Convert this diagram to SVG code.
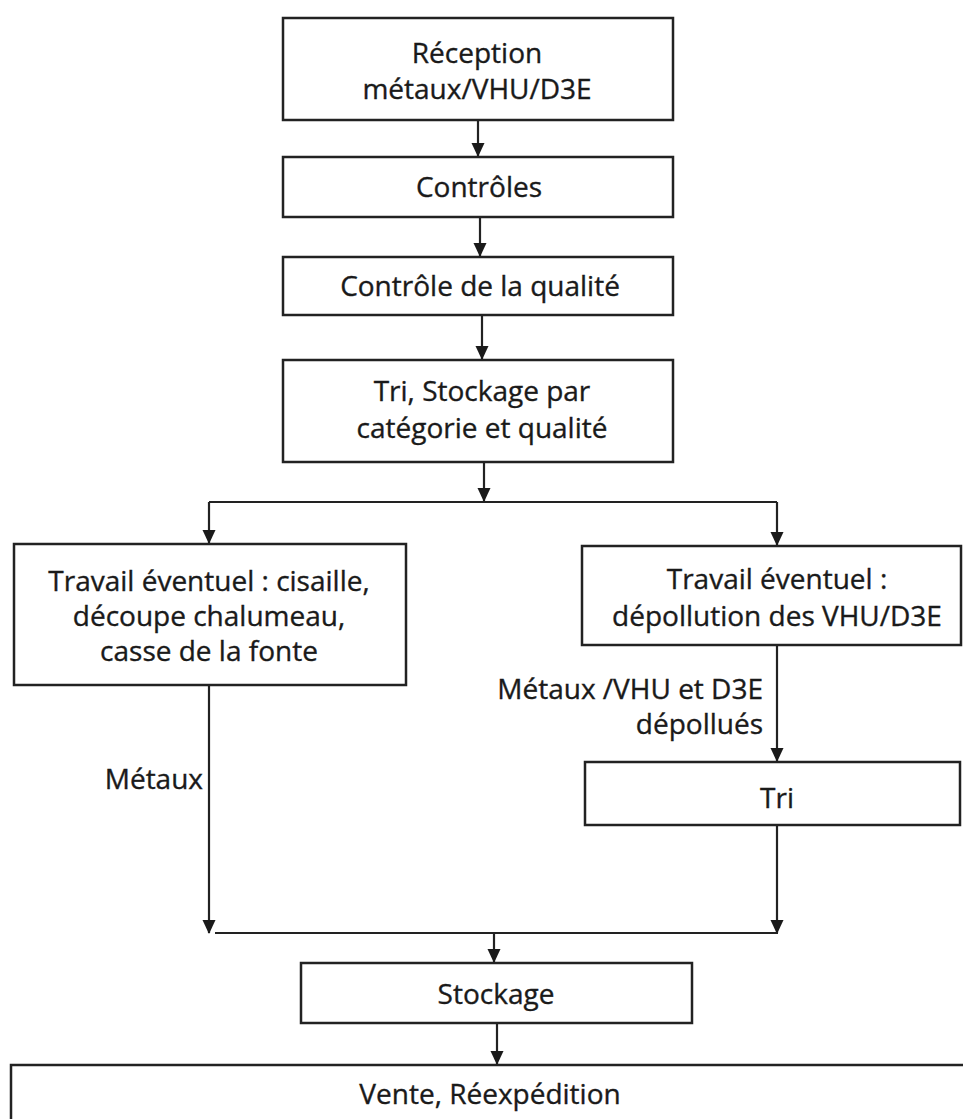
<svg xmlns="http://www.w3.org/2000/svg" width="963" height="1119" viewBox="0 0 963 1119">
<style>
.box{fill:#fff;stroke:#222;stroke-width:2.5}
.t{font-family:"Open Sans","Liberation Sans",sans-serif;font-size:28px;fill:#1a1a1a;stroke:#1a1a1a;stroke-width:0.35;text-anchor:middle}
.l{font-family:"Open Sans","Liberation Sans",sans-serif;font-size:28px;fill:#1a1a1a;stroke:#1a1a1a;stroke-width:0.35;text-anchor:end}
.c{fill:none;stroke:#222;stroke-width:2.2}
</style>
<defs>
<marker id="ah" markerWidth="14" markerHeight="14" refX="13" refY="7" orient="auto" markerUnits="userSpaceOnUse">
<path d="M0,0.5 L14,7 L0,13.5 Z" fill="#1a1a1a"/>
</marker>
</defs>
<rect width="963" height="1119" fill="#fff"/>
<g id="connectors">
<line class="c" x1="478" y1="120" x2="478" y2="156" marker-end="url(#ah)"/>
<line class="c" x1="480" y1="217" x2="480" y2="256" marker-end="url(#ah)"/>
<line class="c" x1="482" y1="315" x2="482" y2="359" marker-end="url(#ah)"/>
<line class="c" x1="484" y1="462" x2="484" y2="501" marker-end="url(#ah)"/>
<line class="c" x1="209" y1="502" x2="777" y2="502"/>
<line class="c" x1="209" y1="502" x2="209" y2="543" marker-end="url(#ah)"/>
<line class="c" x1="777" y1="502" x2="777" y2="545" marker-end="url(#ah)"/>
<line class="c" x1="777" y1="645" x2="777" y2="761" marker-end="url(#ah)"/>
<line class="c" x1="209" y1="685" x2="209" y2="933" marker-end="url(#ah)"/>
<line class="c" x1="777" y1="825" x2="777" y2="933" marker-end="url(#ah)"/>
<line class="c" x1="215" y1="933" x2="778" y2="933"/>
<line class="c" x1="494" y1="933" x2="494" y2="962" marker-end="url(#ah)"/>
<line class="c" x1="497" y1="1023" x2="497" y2="1064" marker-end="url(#ah)"/>
</g>
<g id="n1"><rect class="box" x="283" y="18" width="390" height="102"/><text class="t" x="477" y="63">Réception</text><text class="t" x="477" y="99">métaux/VHU/D3E</text></g>
<g id="n2"><rect class="box" x="283" y="157" width="390" height="60"/><text class="t" x="479" y="197">Contrôles</text></g>
<g id="n3"><rect class="box" x="283" y="257" width="390" height="58"/><text class="t" x="480" y="296">Contrôle de la qualité</text></g>
<g id="n4"><rect class="box" x="283" y="360" width="390" height="102"/><text class="t" x="482" y="401">Tri, Stockage par</text><text class="t" x="482" y="438">catégorie et qualité</text></g>
<g id="n5"><rect class="box" x="14" y="544" width="392" height="141"/><text class="t" x="209" y="591">Travail éventuel : cisaille,</text><text class="t" x="209" y="626">découpe chalumeau,</text><text class="t" x="209" y="661">casse de la fonte</text></g>
<g id="n6"><rect class="box" x="582" y="546" width="379" height="99"/><text class="t" x="777" y="589">Travail éventuel :</text><text class="t" x="777" y="626">dépollution des VHU/D3E</text></g>
<g id="n7"><rect class="box" x="585" y="762" width="375" height="63"/><text class="t" x="777" y="808">Tri</text></g>
<g id="n8"><rect class="box" x="301" y="963" width="391" height="60"/><text class="t" x="496" y="1004">Stockage</text></g>
<g id="n9"><rect class="box" x="11" y="1065" width="960" height="80"/><text class="t" x="490" y="1104">Vente, Réexpédition</text></g>
<g id="labels">
<text class="l" x="763" y="699">Métaux /VHU et D3E</text>
<text class="l" x="763" y="734">dépollués</text>
<text class="l" x="203" y="789">Métaux</text>
</g>
</svg>
